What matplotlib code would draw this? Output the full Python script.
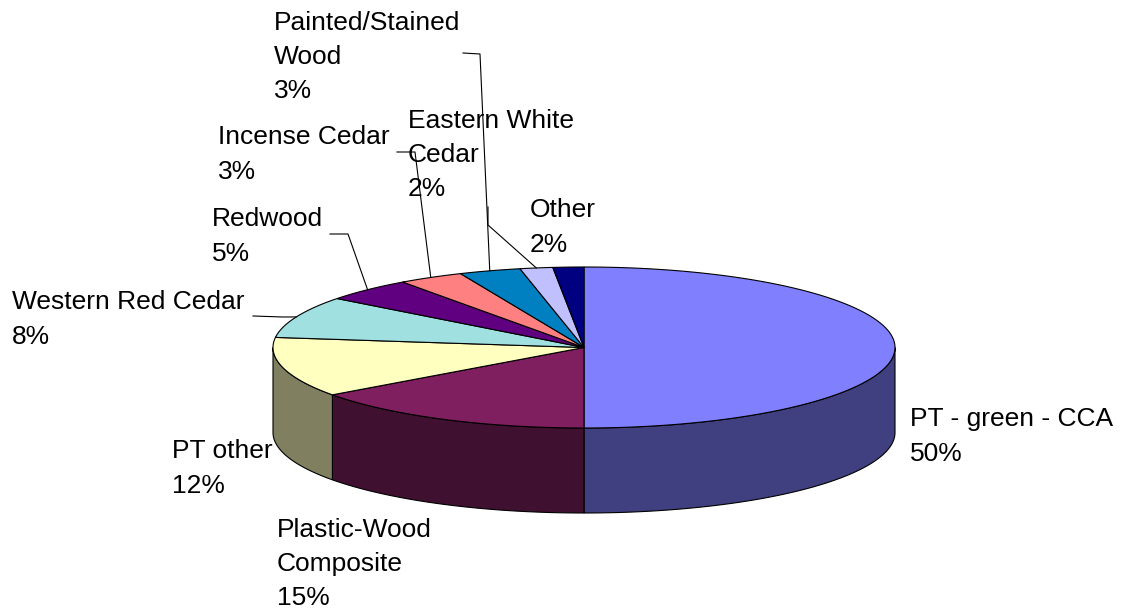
# ---- Third party imports
import matplotlib.pyplot as plt
from matplotlib.patches import Polygon
import numpy as np

plt.rcParams['font.family'] = ['Liberation Sans', 'DejaVu Sans']

# ---- Data (clockwise from 12 o'clock)
labels = ['PT - green - CCA', 'Plastic-Wood\nComposite', 'PT other',
          'Western Red Cedar', 'Redwood', 'Incense Cedar',
          'Painted/Stained\nWood', 'Eastern White\nCedar', 'Other']
shares = [50, 15, 12, 8.4, 4.7, 3.4, 3.2, 1.7, 1.6]
top_colors = ['#8080FF', '#7F1F5F', '#FFFFC0', '#A0E0E0', '#600080',
              '#FF8080', '#0080C0', '#C0C0FF', '#000080']
side_colors = ['#404080', '#401030', '#808060', '#507070', '#300040',
               '#804040', '#004060', '#606080', '#000040']

# ---- Layout (pixels)
cx, cy, rx, ry, depth = 584, 347.5, 311, 80.5, 85
# label block: left x, center y of first line
label_pos = [(910, 417), (277, 527), (172, 449), (12, 300), (212, 217),
             (218, 135), (274, 20), (408, 118), (530, 208)]
# leader start and elbow for labels that have one
leaders = {3: [(253, 316), (283, 317)],
           4: [(330, 234), (348, 234)],
           5: [(397, 152), (415, 152)],
           6: [(463, 53), (480, 54)],
           7: [(488, 207), (488, 225)]}
line_h = 35
y_nudge = 2


def rim(t0, t1, n=200):
    t = np.radians(np.linspace(t0, t1, n))
    return cx + rx * np.sin(t), cy - ry * np.cos(t)


fig = plt.figure(figsize=(11.22, 6.11), dpi=100)
ax = fig.add_axes([0, 0, 1, 1])
ax.set_xlim(0, 1122)
ax.set_ylim(611, 0)
ax.axis('off')

bounds = np.concatenate([[0], np.cumsum(shares)]) / np.sum(shares) * 360

# ---- Front walls of the 3D pie
for i in range(len(shares)):
    a0, a1 = max(bounds[i], 90), min(bounds[i + 1], 270)
    if a1 <= a0:
        continue
    x, y = rim(a0, a1)
    px = np.concatenate([x, x[::-1]])
    py = np.concatenate([y, y[::-1] + depth])
    ax.add_patch(Polygon(np.column_stack([px, py]), closed=True,
                         fc=side_colors[i], ec='black', lw=0.8))

# ---- Top of the pie
for i in range(len(shares)):
    x, y = rim(bounds[i], bounds[i + 1])
    pts = np.column_stack([np.r_[cx, x], np.r_[cy, y]])
    ax.add_patch(Polygon(pts, closed=True, fc=top_colors[i],
                         ec='black', lw=0.8))

# ---- Labels and leader lines
for i, (lab, s) in enumerate(zip(labels, shares)):
    txt = '{}\n{}%'.format(lab, int(round(s)))
    nlines = txt.count('\n') + 1
    lx, ly = label_pos[i]
    ax.text(lx, ly + y_nudge + (nlines - 1) * line_h / 2, txt, fontsize=19,
            ha='left', va='center', linespacing=1.53, color='black')
    if i in leaders:
        mid = (bounds[i] + bounds[i + 1]) / 2
        ex, ey = rim(mid, mid, 1)
        pts = leaders[i] + [(ex[0], ey[0])]
        ax.plot([p[0] for p in pts], [p[1] for p in pts], color='black',
                lw=0.8)

fig.savefig('out.png', dpi=100)
